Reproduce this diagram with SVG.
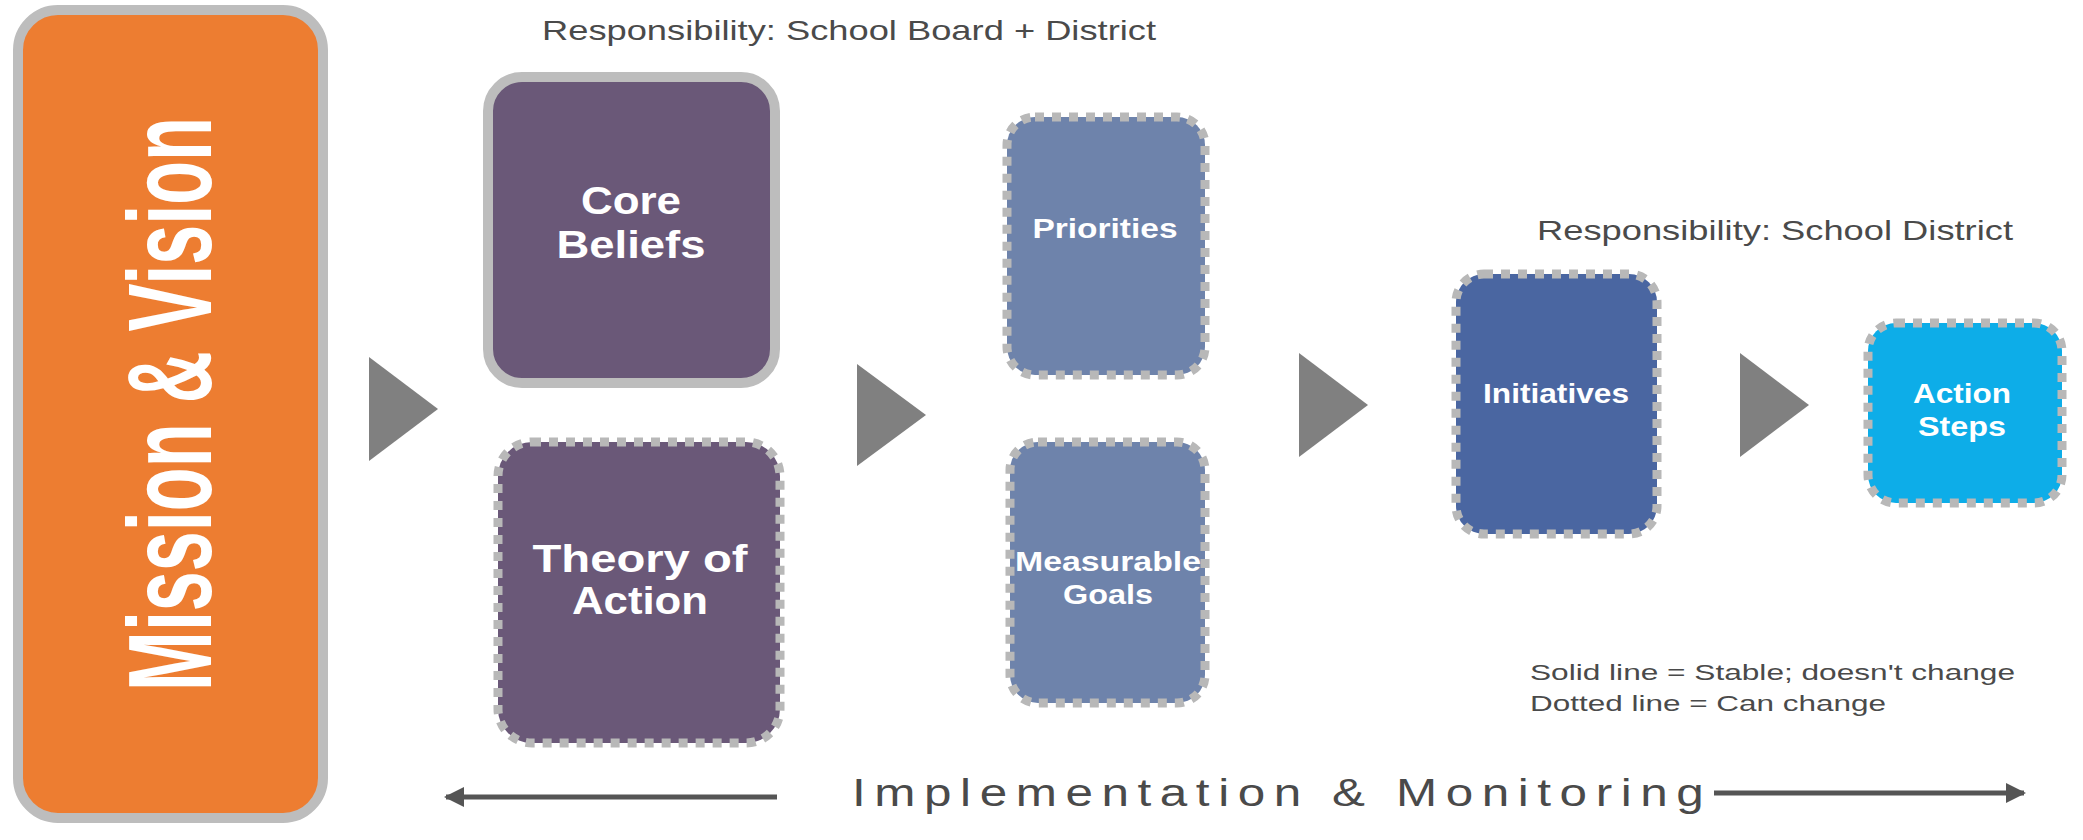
<svg xmlns="http://www.w3.org/2000/svg" width="2083" height="840" viewBox="0 0 2083 840">
<style>
.solid{stroke:#BDBDBD;stroke-width:10;}
.dot{stroke:#B8B8B8;stroke-width:9;stroke-dasharray:9 8;}
.lbl{font-family:"Liberation Sans",Arial,sans-serif;font-weight:bold;fill:#FFFFFF;text-anchor:middle;}
.cap{font-family:"Liberation Sans",Arial,sans-serif;fill:#4A4A4A;}
.tri{fill:#808080;}
</style>
<defs>
<marker id="ah" viewBox="0 0 10 10" refX="9" refY="5" markerWidth="4" markerHeight="4" orient="auto-start-reverse"><path d="M0,0 L10,5 L0,10 Z" fill="#555555"/></marker>
</defs>
<rect width="2083" height="840" fill="#FFFFFF"/>
<text class="cap" x="542" y="40" font-size="28" textLength="614" lengthAdjust="spacingAndGlyphs">Responsibility: School Board + District</text>
<text class="cap" x="1537" y="240" font-size="28" textLength="476" lengthAdjust="spacingAndGlyphs">Responsibility: School District</text>
<g id="mission">
<rect class="solid" x="18" y="10" width="305" height="808" rx="40" fill="#ED7D31"/>
<text class="lbl" transform="translate(211,404) rotate(-90)" font-size="118" textLength="574" lengthAdjust="spacingAndGlyphs">Mission &amp; Vision</text>
</g>
<g id="core">
<rect class="solid" x="488" y="77" width="287" height="306" rx="34" fill="#6A5878"/>
<text class="lbl" x="631" y="214" font-size="38" textLength="100" lengthAdjust="spacingAndGlyphs">Core</text>
<text class="lbl" x="631" y="258" font-size="38" textLength="149" lengthAdjust="spacingAndGlyphs">Beliefs</text>
</g>
<g id="theory">
<rect class="dot" x="498" y="442" width="282" height="301" rx="34" fill="#6A5878"/>
<text class="lbl" x="640" y="572" font-size="38" textLength="215" lengthAdjust="spacingAndGlyphs">Theory of</text>
<text class="lbl" x="640" y="614" font-size="38" textLength="136" lengthAdjust="spacingAndGlyphs">Action</text>
</g>
<g id="priorities">
<rect class="dot" x="1007" y="117" width="198" height="258" rx="28" fill="#6E83AB"/>
<text class="lbl" x="1105" y="238" font-size="27" textLength="145" lengthAdjust="spacingAndGlyphs">Priorities</text>
</g>
<g id="goals">
<rect class="dot" x="1010" y="442" width="195" height="261" rx="28" fill="#6E83AB"/>
<text class="lbl" x="1108" y="571" font-size="27" textLength="186" lengthAdjust="spacingAndGlyphs">Measurable</text>
<text class="lbl" x="1108" y="604" font-size="27" textLength="90" lengthAdjust="spacingAndGlyphs">Goals</text>
</g>
<g id="initiatives">
<rect class="dot" x="1456" y="274" width="201" height="260" rx="28" fill="#4A66A1"/>
<text class="lbl" x="1556" y="403" font-size="27" textLength="146" lengthAdjust="spacingAndGlyphs">Initiatives</text>
</g>
<g id="steps">
<rect class="dot" x="1868" y="323" width="194" height="180" rx="28" fill="#0DADE8"/>
<text class="lbl" x="1962" y="403" font-size="27" textLength="98" lengthAdjust="spacingAndGlyphs">Action</text>
<text class="lbl" x="1962" y="436" font-size="27" textLength="88" lengthAdjust="spacingAndGlyphs">Steps</text>
</g>
<g id="connectors">
<polygon class="tri" points="369,357 438,409 369,461"/>
<polygon class="tri" points="857,364 926,415 857,466"/>
<polygon class="tri" points="1299,353 1368,405 1299,457"/>
<polygon class="tri" points="1740,353 1809,405 1740,457"/>
<line x1="777" y1="797" x2="446" y2="797" stroke="#555555" stroke-width="5" marker-end="url(#ah)"/>
<line x1="1714" y1="793" x2="2024" y2="793" stroke="#555555" stroke-width="5" marker-end="url(#ah)"/>
</g>
<text class="cap" transform="translate(852,806) scale(1.3,1)" font-size="38" fill="#555555" letter-spacing="6.6">Implementation &amp; Monitoring</text>
<text class="cap" x="1530" y="680" font-size="22" textLength="485" lengthAdjust="spacingAndGlyphs">Solid line = Stable; doesn't change</text>
<text class="cap" x="1530" y="711" font-size="22" textLength="356" lengthAdjust="spacingAndGlyphs">Dotted line = Can change</text>
</svg>
